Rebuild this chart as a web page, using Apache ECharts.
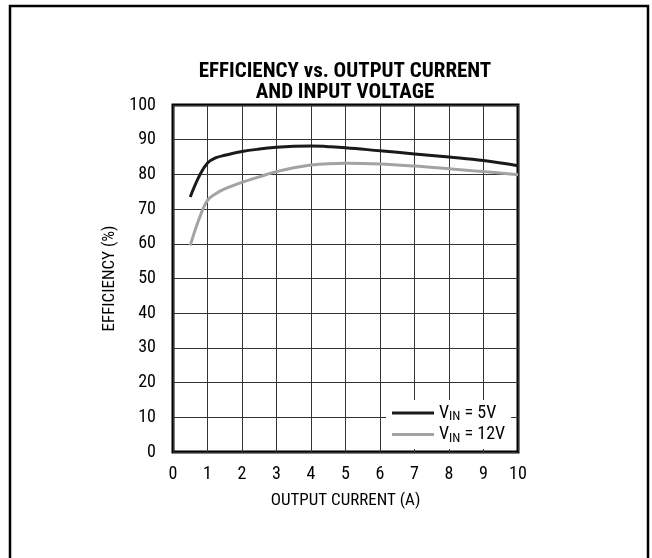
<!DOCTYPE html>
<html>
<head>
<meta charset="utf-8">
<script src="https://cdn.jsdelivr.net/npm/echarts@6/dist/echarts.min.js"></script>
<style>
  html, body { margin: 0; padding: 0; background: #fff; }
  #chart { width: 652px; height: 558px; }
</style>
</head>
<body>
<div id="chart"></div>
<script>
// 数据
var current5 = [0.5, 0.75, 1, 1.25, 1.5, 2, 2.5, 3, 3.5, 4, 4.5, 5, 6, 7, 8, 9, 10];
var eff5 = [73.5, 79.3, 83.3, 84.8, 85.5, 86.6, 87.3, 87.8, 88.1, 88.2, 88.0, 87.7, 86.8, 85.9, 85.0, 84.0, 82.5];
var current12 = [0.5, 0.75, 1, 1.25, 1.5, 2, 2.5, 3, 3.5, 4, 4.5, 5, 6, 7, 8, 9, 10];
var eff12 = [59.5, 67.0, 72.5, 74.5, 75.8, 77.7, 79.3, 80.8, 81.9, 82.7, 83.1, 83.2, 83.0, 82.4, 81.6, 80.8, 79.9];
var seriesNames = ['5V', '12V'];

function pairs(xs, ys) {
    return xs.map(function (x, i) { return [x, ys[i]]; });
}

var font = '"Liberation Sans Narrow", "Roboto Condensed", "Liberation Sans", sans-serif';

var chart = echarts.init(document.getElementById('chart'));
var option = {
    animation: false,
    backgroundColor: '#fff',
    title: {
        text: 'EFFICIENCY vs. OUTPUT CURRENT\nAND INPUT VOLTAGE',
        left: 345,
        top: 61,
        padding: 0,
        textAlign: 'center',
        textStyle: {
            fontFamily: font,
            fontWeight: 'bold',
            fontSize: 21,
            lineHeight: 21,
            color: '#000'
        }
    },
    graphic: [{
        type: 'rect',
        shape: { x: 10, y: 6, width: 638, height: 600 },
        style: { fill: null, stroke: '#000', lineWidth: 2.5 },
        silent: true
    }],
    legend: {
        orient: 'vertical',
        left: 386,
        top: 400,
        padding: [4, 6, 4, 6],
        backgroundColor: '#fff',
        itemWidth: 42,
        itemHeight: 3,
        itemGap: 2,
        icon: 'rect',
        data: seriesNames,
        formatter: function (name) {
            return '{v|V}{s|IN}{v| = ' + name + '}';
        },
        textStyle: {
            fontFamily: font,
            color: '#000',
            rich: {
                v: { fontFamily: font, fontSize: 18, color: '#000' },
                s: { fontFamily: font, fontSize: 13, color: '#000', padding: [8, 0, 0, 0] }
            }
        }
    },
    grid: {
        left: 173,
        top: 105,
        width: 345,
        height: 347,
        show: true,
        borderColor: '#000',
        borderWidth: 3,
        backgroundColor: 'transparent'
    },
    xAxis: {
        type: 'value',
        min: 0,
        max: 10,
        interval: 1,
        name: 'OUTPUT CURRENT (A)',
        nameLocation: 'middle',
        nameGap: 40,
        nameTextStyle: { fontFamily: font, fontSize: 17, color: '#000' },
        axisLine: { show: false },
        axisTick: { show: false },
        axisLabel: { margin: 13, fontFamily: font, fontSize: 18, color: '#000' },
        splitLine: { lineStyle: { color: '#333', width: 1 } }
    },
    yAxis: {
        type: 'value',
        min: 0,
        max: 100,
        interval: 10,
        name: 'EFFICIENCY (%)',
        nameLocation: 'middle',
        nameGap: 53,
        nameTextStyle: { fontFamily: font, fontSize: 17, color: '#000' },
        axisLine: { show: false },
        axisTick: { show: false },
        axisLabel: { margin: 17, fontFamily: font, fontSize: 18, color: '#000' },
        splitLine: { lineStyle: { color: '#333', width: 1 } }
    },
    series: [{
        name: '5V',
        type: 'line',
        smooth: 0.4,
        symbol: 'none',
        lineStyle: { color: '#1a1a1a', width: 3 },
        itemStyle: { color: '#1a1a1a' },
        data: pairs(current5, eff5),
        z: 3
    }, {
        name: '12V',
        type: 'line',
        smooth: 0.4,
        symbol: 'none',
        lineStyle: { color: '#a3a3a3', width: 3 },
        itemStyle: { color: '#a3a3a3' },
        data: pairs(current12, eff12),
        z: 2
    }]
};
chart.setOption(option);
</script>
</body>
</html>
